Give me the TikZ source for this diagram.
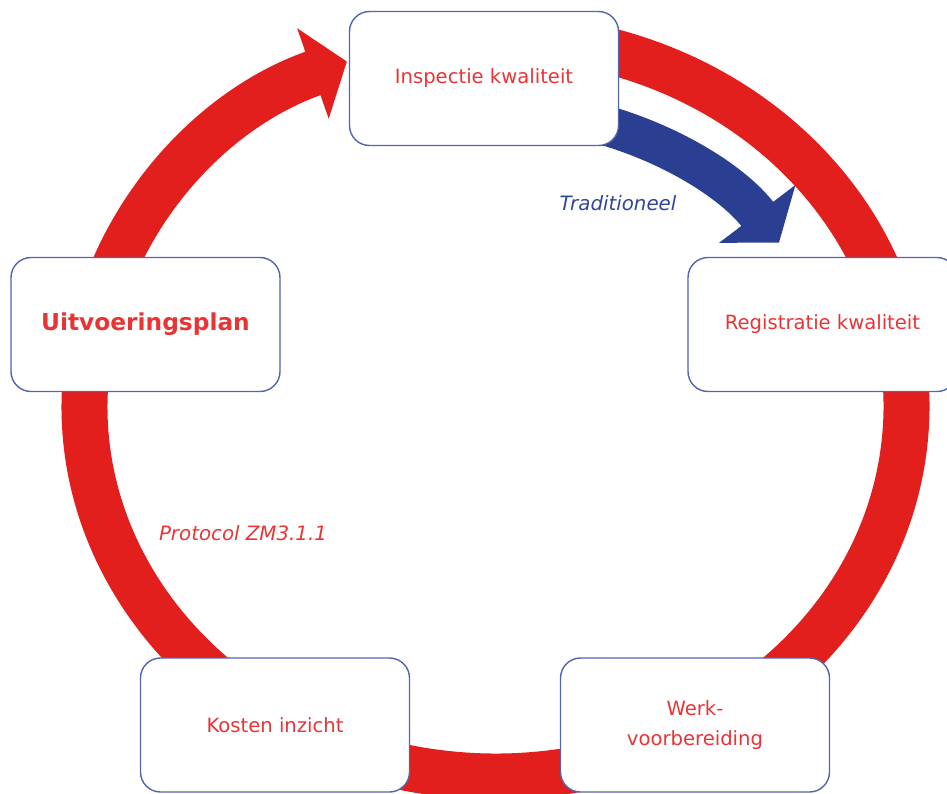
\documentclass[tikz,border=0pt]{standalone}
\usepackage{fontspec}
\setsansfont{DejaVu Sans}
\usetikzlibrary{arrows.meta}

\definecolor{ringred}{RGB}{227,31,30}
\definecolor{arrowblue}{RGB}{42,63,145}
\definecolor{boxblue}{RGB}{82,100,176}
\definecolor{txtred}{RGB}{232,52,52}
\definecolor{tradblue}{RGB}{48,70,155}

\tikzset{
    stage/.style = {draw = boxblue, line width = 1.4pt, fill = white,
        rounded corners = 20pt, minimum width = 269pt, minimum height = 134pt,
        align = center, text = txtred, font = \sffamily\fontsize{19.6}{30}\selectfont},
    note/.style = {font = \sffamily\itshape\fontsize{19.8}{22}\selectfont}
}

\begin{document}
\begin{tikzpicture}[x = 1pt, y = -1pt]
    \useasboundingbox (0,0) rectangle (947,793);
    \coordinate (hub) at (495.5,406.5);

    % the cycle, clockwise, ending at the top box
    \draw[line width = 46pt, ringred, -{Triangle[length = 36pt, width = 94pt]}]
        ([shift = {(-85:411 and 370)}] hub) arc[start angle = -85, end angle = 248.8, x radius = 411, y radius = 370];
    % short cut
    \draw[line width = 40pt, arrowblue, -{Triangle[length = 36pt, width = 94pt]}]
        ([shift = {(-77:340 and 297)}] hub) arc[start angle = -77, end angle = -33.5, x radius = 340, y radius = 297];

    \node[stage] (inspectie) at (484,78.5) {Inspectie kwaliteit};
    \node[stage, font = \sffamily\bfseries\fontsize{23.3}{28}\selectfont] (plan) at (145.5,324.5) {Uitvoeringsplan};
    \node[stage] (registratie) at (822.5,324.5) {Registratie kwaliteit};
    \node[stage] (kosten) at (275,725) {Kosten inzicht};
    \node[stage] (werk) at (695,725) {Werk-\\voorbereiding};

    \node[note, text = tradblue] (trad) at (618,203) {Traditioneel};
    \node[note, text = txtred] (protocol) at (243,533) {Protocol ZM3.1.1};
\end{tikzpicture}
\end{document}
